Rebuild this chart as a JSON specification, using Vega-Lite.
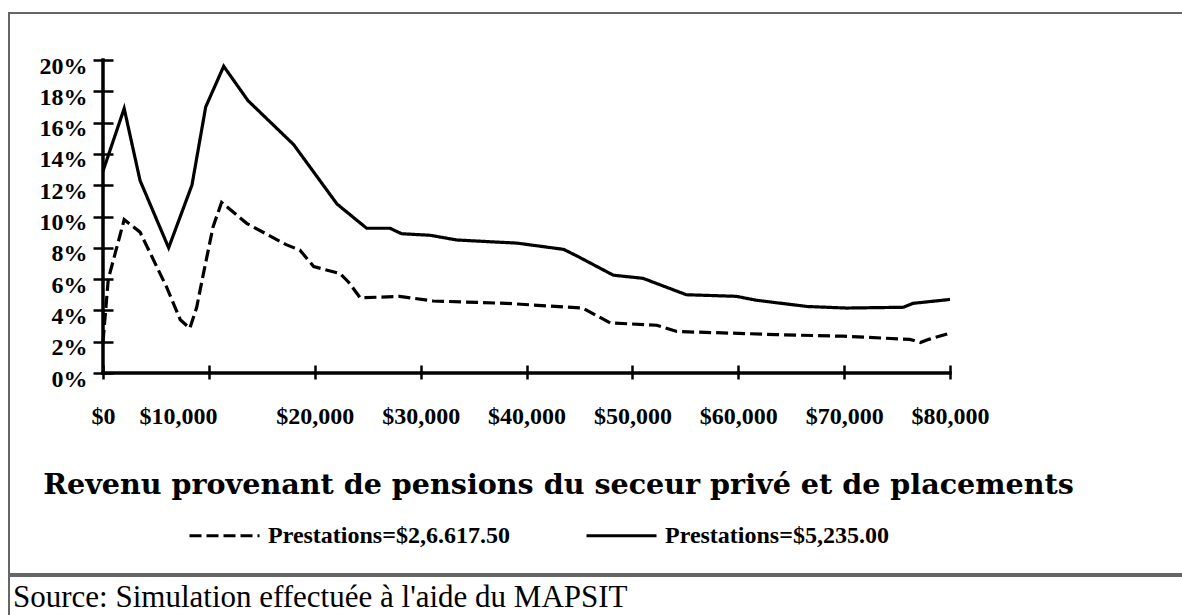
{
  "$schema": "https://vega.github.io/schema/vega-lite/v6.json",
  "padding": {"left": 8, "top": 12, "right": 0, "bottom": 0},
  "background": "white",
  "spacing": 0,
  "config": {
    "view": {"stroke": "#666666", "strokeWidth": 2},
    "font": "Liberation Serif"
  },
  "vconcat": [
    {
      "width": 1176,
      "height": 561,
      "layer": [
        {
          "data": {
            "values": [
              {"serie": "Prestations=$5,235.00", "revenu": 0, "taux": 12.9},
              {"serie": "Prestations=$5,235.00", "revenu": 2000, "taux": 16.9},
              {"serie": "Prestations=$5,235.00", "revenu": 3500, "taux": 12.3},
              {"serie": "Prestations=$5,235.00", "revenu": 6200, "taux": 8.0},
              {"serie": "Prestations=$5,235.00", "revenu": 8400, "taux": 12.0},
              {"serie": "Prestations=$5,235.00", "revenu": 9700, "taux": 17.0},
              {"serie": "Prestations=$5,235.00", "revenu": 11400, "taux": 19.6},
              {"serie": "Prestations=$5,235.00", "revenu": 13700, "taux": 17.4},
              {"serie": "Prestations=$5,235.00", "revenu": 18000, "taux": 14.6},
              {"serie": "Prestations=$5,235.00", "revenu": 22100, "taux": 10.8},
              {"serie": "Prestations=$5,235.00", "revenu": 24900, "taux": 9.25},
              {"serie": "Prestations=$5,235.00", "revenu": 27100, "taux": 9.25},
              {"serie": "Prestations=$5,235.00", "revenu": 28200, "taux": 8.9},
              {"serie": "Prestations=$5,235.00", "revenu": 30900, "taux": 8.8},
              {"serie": "Prestations=$5,235.00", "revenu": 33400, "taux": 8.5},
              {"serie": "Prestations=$5,235.00", "revenu": 36200, "taux": 8.4},
              {"serie": "Prestations=$5,235.00", "revenu": 39100, "taux": 8.3},
              {"serie": "Prestations=$5,235.00", "revenu": 43500, "taux": 7.9},
              {"serie": "Prestations=$5,235.00", "revenu": 44700, "taux": 7.5},
              {"serie": "Prestations=$5,235.00", "revenu": 48200, "taux": 6.25},
              {"serie": "Prestations=$5,235.00", "revenu": 51000, "taux": 6.05},
              {"serie": "Prestations=$5,235.00", "revenu": 55100, "taux": 5.0},
              {"serie": "Prestations=$5,235.00", "revenu": 59800, "taux": 4.9},
              {"serie": "Prestations=$5,235.00", "revenu": 61700, "taux": 4.65},
              {"serie": "Prestations=$5,235.00", "revenu": 66500, "taux": 4.25},
              {"serie": "Prestations=$5,235.00", "revenu": 70200, "taux": 4.15},
              {"serie": "Prestations=$5,235.00", "revenu": 75600, "taux": 4.2},
              {"serie": "Prestations=$5,235.00", "revenu": 76500, "taux": 4.45},
              {"serie": "Prestations=$5,235.00", "revenu": 80000, "taux": 4.7},
              {"serie": "Prestations=$2,6.617.50", "revenu": 0, "taux": 2.0},
              {"serie": "Prestations=$2,6.617.50", "revenu": 500, "taux": 6.0},
              {"serie": "Prestations=$2,6.617.50", "revenu": 2000, "taux": 9.8},
              {"serie": "Prestations=$2,6.617.50", "revenu": 3500, "taux": 9.0},
              {"serie": "Prestations=$2,6.617.50", "revenu": 6000, "taux": 5.5},
              {"serie": "Prestations=$2,6.617.50", "revenu": 7300, "taux": 3.4},
              {"serie": "Prestations=$2,6.617.50", "revenu": 8200, "taux": 2.85},
              {"serie": "Prestations=$2,6.617.50", "revenu": 8850, "taux": 4.2},
              {"serie": "Prestations=$2,6.617.50", "revenu": 9500, "taux": 6.4},
              {"serie": "Prestations=$2,6.617.50", "revenu": 10400, "taux": 9.35},
              {"serie": "Prestations=$2,6.617.50", "revenu": 11200, "taux": 10.9},
              {"serie": "Prestations=$2,6.617.50", "revenu": 13600, "taux": 9.55},
              {"serie": "Prestations=$2,6.617.50", "revenu": 17300, "taux": 8.2},
              {"serie": "Prestations=$2,6.617.50", "revenu": 18600, "taux": 7.85},
              {"serie": "Prestations=$2,6.617.50", "revenu": 19900, "taux": 6.8},
              {"serie": "Prestations=$2,6.617.50", "revenu": 22400, "taux": 6.35},
              {"serie": "Prestations=$2,6.617.50", "revenu": 23200, "taux": 5.8},
              {"serie": "Prestations=$2,6.617.50", "revenu": 24300, "taux": 4.8},
              {"serie": "Prestations=$2,6.617.50", "revenu": 28000, "taux": 4.9},
              {"serie": "Prestations=$2,6.617.50", "revenu": 31200, "taux": 4.6},
              {"serie": "Prestations=$2,6.617.50", "revenu": 38100, "taux": 4.45},
              {"serie": "Prestations=$2,6.617.50", "revenu": 45300, "taux": 4.15},
              {"serie": "Prestations=$2,6.617.50", "revenu": 47900, "taux": 3.2},
              {"serie": "Prestations=$2,6.617.50", "revenu": 52300, "taux": 3.05},
              {"serie": "Prestations=$2,6.617.50", "revenu": 54200, "taux": 2.65},
              {"serie": "Prestations=$2,6.617.50", "revenu": 59200, "taux": 2.55},
              {"serie": "Prestations=$2,6.617.50", "revenu": 63600, "taux": 2.45},
              {"serie": "Prestations=$2,6.617.50", "revenu": 69900, "taux": 2.35},
              {"serie": "Prestations=$2,6.617.50", "revenu": 76200, "taux": 2.15},
              {"serie": "Prestations=$2,6.617.50", "revenu": 77200, "taux": 1.95},
              {"serie": "Prestations=$2,6.617.50", "revenu": 78000, "taux": 2.15},
              {"serie": "Prestations=$2,6.617.50", "revenu": 80000, "taux": 2.55}
            ]
          },
          "mark": {"type": "line", "color": "black", "strokeWidth": 3.2, "clip": false},
          "encoding": {
            "x": {
              "field": "revenu",
              "type": "quantitative",
              "scale": {"domain": [0, 80000], "range": [94, 941]},
              "axis": {
                "values": [0, 10000, 20000, 30000, 40000, 50000, 60000, 70000, 80000],
                "labelExpr": "'$' + format(datum.value, ',')",
                "offset": -209,
                "domain": false,
                "grid": false,
                "tickSize": 14,
                "tickWidth": 2.5,
                "tickColor": "black",
                "labelPadding": 25,
                "labelFont": "Liberation Serif",
                "labelFontWeight": "bold",
                "labelFontSize": 24,
                "labelColor": "black",
                "labelOffset": {"condition": {"test": "datum.value == 10000", "value": -31}, "value": 0},
                "labelOverlap": false,
                "labelFlush": false,
                "labelBound": false,
                "title": "Revenu provenant de pensions du seceur privé et de placements",
                "titleFont": "DejaVu Serif",
                "titleFontWeight": "bold",
                "titleFontSize": 28.6,
                "titleColor": "black",
                "titleX": 549,
                "titleY": 128,
                "titleAlign": "center",
                "titleBaseline": "alphabetic"
              }
            },
            "y": {
              "field": "taux",
              "type": "quantitative",
              "scale": {"domain": [0, 20], "range": [360, 47]},
              "axis": {
                "values": [0, 2, 4, 6, 8, 10, 12, 14, 16, 18, 20],
                "labelExpr": "datum.value + '%'",
                "offset": -104,
                "domain": false,
                "grid": false,
                "tickSize": 20,
                "tickWidth": 2.5,
                "tickColor": "black",
                "labelPadding": 6,
                "labelOffset": 6,
                "labelFont": "Liberation Serif",
                "labelFontWeight": "bold",
                "labelFontSize": 24,
                "labelColor": "black",
                "labelOverlap": false,
                "labelFlush": false,
                "labelBound": false,
                "title": null
              }
            },
            "strokeDash": {
              "field": "serie",
              "type": "nominal",
              "scale": {
                "domain": ["Prestations=$2,6.617.50", "Prestations=$5,235.00"],
                "range": [[12, 5], [1, 0]]
              },
              "legend": {
                "orient": "none",
                "legendX": 179,
                "legendY": 486,
                "direction": "horizontal",
                "title": null,
                "symbolType": "stroke",
                "symbolSize": 4900,
                "symbolStrokeWidth": 3,
                "symbolStrokeColor": "black",
                "labelFont": "Liberation Serif",
                "labelFontWeight": "bold",
                "labelFontSize": 24,
                "labelColor": "black",
                "labelOffset": 7,
                "labelLimit": 400,
                "columnPadding": 70
              }
            }
          }
        },
        {
          "data": {"values": [{}]},
          "mark": {"type": "rule", "color": "black", "strokeWidth": 3.5, "strokeCap": "square"},
          "encoding": {
            "x": {"datum": 0, "type": "quantitative"},
            "y": {"datum": 0, "type": "quantitative"},
            "y2": {"datum": 20}
          }
        },
        {
          "data": {"values": [{}]},
          "mark": {"type": "rule", "color": "black", "strokeWidth": 3.5, "strokeCap": "square"},
          "encoding": {
            "y": {"datum": 0, "type": "quantitative"},
            "x": {"datum": 0, "type": "quantitative"},
            "x2": {"datum": 80000}
          }
        }
      ]
    },
    {
      "width": 1176,
      "height": 42,
      "data": {"values": [{"source": "Source: Simulation effectuée à l'aide du MAPSIT"}]},
      "mark": {
        "type": "text",
        "align": "left",
        "baseline": "alphabetic",
        "font": "Liberation Serif",
        "fontSize": 31,
        "color": "black",
        "dx": 4,
        "dy": -11
      },
      "encoding": {
        "text": {"field": "source"},
        "x": {"datum": 0, "type": "quantitative", "scale": {"domain": [0, 1]}, "axis": null},
        "y": {"datum": 0, "type": "quantitative", "scale": {"domain": [0, 1]}, "axis": null}
      }
    }
  ]
}
